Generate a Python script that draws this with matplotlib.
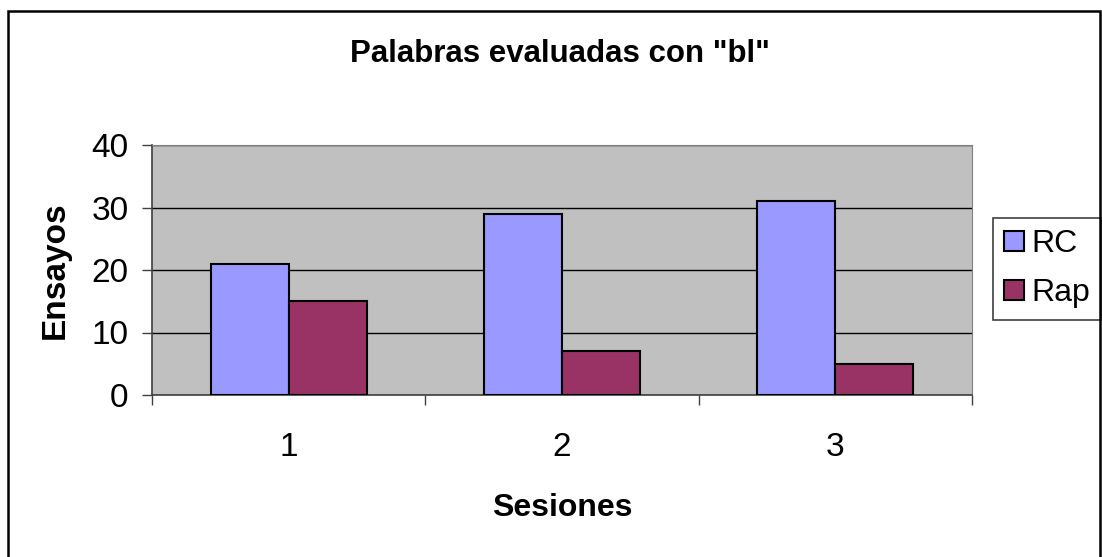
import numpy as np
import matplotlib
matplotlib.use("Agg")
import matplotlib.pyplot as plt
from matplotlib.patches import Rectangle

plt.rcParams["font.family"] = ["Liberation Sans", "DejaVu Sans"]

sessions = ["1", "2", "3"]
rc_values = [21, 29, 31]
rap_values = [15, 7, 5]
series_names = ["RC", "Rap"]
y_ticks = [0, 10, 20, 30, 40]

C = {"rc": "#9999FF", "rap": "#993366", "bg": "#C0C0C0"}

W, H = 1102, 557
fig = plt.figure(figsize=(W / 100, H / 100), dpi=100)
ax = fig.add_axes([152 / W, 1 - 395 / H, 820 / W, 250 / H])
ax.set_facecolor(C["bg"])

x = np.arange(len(sessions))
gap = 1.5
width = 1 / (2 + gap)
ax.bar(x - width / 2, rc_values, width, color=C["rc"], edgecolor="black",
       linewidth=1.5, label=series_names[0], zorder=3)
ax.bar(x + width / 2, rap_values, width, color=C["rap"], edgecolor="black",
       linewidth=1.5, label=series_names[1], zorder=3)

ax.set_xlim(-0.5, len(sessions) - 0.5)
ax.set_ylim(0, 40)
ax.set_yticks(y_ticks)
ax.yaxis.grid(True, color="black", linewidth=1.0, zorder=1)
ax.set_axisbelow(True)

# category labels sit in the middle, tick marks on the boundaries
ax.set_xticks(x)
ax.set_xticklabels(sessions)
ax.set_xticks(np.arange(len(sessions) + 1) - 0.5, minor=True)
ax.tick_params(axis="x", which="major", length=0, pad=27, labelsize=24)
ax.tick_params(axis="x", which="minor", length=7, width=1, color="#404040")
ax.tick_params(axis="y", length=7, width=1, color="#404040", pad=10, labelsize=24)

for side in ["top", "right"]:
    ax.spines[side].set_color("#808080")
for side in ["left", "bottom"]:
    ax.spines[side].set_color("#404040")
    ax.spines[side].set_linewidth(1.2)

ax.set_xlabel("Sesiones", fontsize=23, fontweight="bold", labelpad=21)
ax.set_ylabel("Ensayos", fontsize=24, fontweight="bold", labelpad=15)
fig.text(560 / W, 1 - 54 / H, 'Palabras evaluadas con "bl"', ha="center",
         va="center", fontsize=22.5, fontweight="bold")

leg = ax.legend(loc="upper left", bbox_to_anchor=(993 / W, 1 - 218 / H),
                bbox_transform=fig.transFigure, fontsize=23,
                handlelength=0.62, handleheight=0.62, handletextpad=0.22,
                labelspacing=0.6, borderpad=0.35, borderaxespad=0,
                fancybox=False, framealpha=1)
leg.get_frame().set_edgecolor("#404040")
leg.get_frame().set_linewidth(1.2)
for h in leg.legend_handles:
    h.set_linewidth(1.5)

fig.patches.append(Rectangle((8 / W, -0.02), 1092 / W, 1.02 - 11 / H,
                             transform=fig.transFigure, fill=False,
                             edgecolor="black", linewidth=1.8))

fig.savefig("out.png", dpi=100)
